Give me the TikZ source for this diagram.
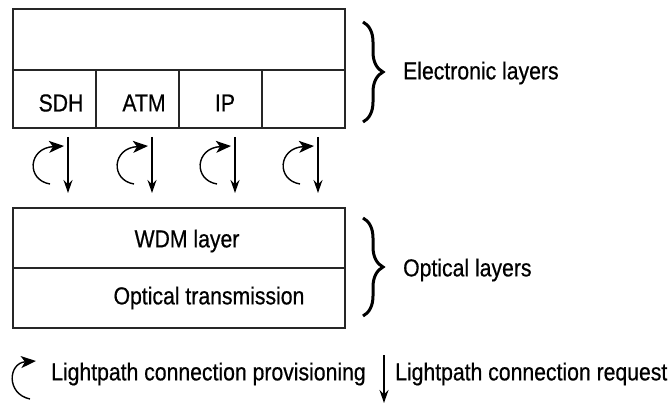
\documentclass[tikz,border=0pt]{standalone}
\usepackage{fontspec}
\setmainfont{Liberation Sans}[BoldFont=Liberation Sans,BoldFeatures={FakeBold=0.6}]
\usetikzlibrary{arrows.meta,decorations.pathreplacing}
\begin{document}
\begin{tikzpicture}[x=1pt,y=-1pt,
  box/.style={draw=black!85,line width=1.2pt},
  lbl/.style={font=\fontsize{24.5}{28}\selectfont\bfseries,xscale=0.865,inner sep=0pt},
  brc/.style={decorate,decoration={brace,amplitude=20pt},line width=3pt},
  dn/.style={-{Stealth[length=13pt,width=9pt]},line width=1.4pt},
  prov/.style={-{Stealth[length=15pt,width=12pt,inset=4pt]},line width=1.4pt}]
\useasboundingbox (0,0) rectangle (668,403);
% electronic layers
\draw[box] (13,9) rectangle (345,128);
\draw[box] (13,70) -- (345,70);
\foreach \x in {96,179,262} \draw[box] (\x,70) -- (\x,128);
\node[lbl] (sdh) at (61,103) {SDH};
\node[lbl] (atm) at (144,103) {ATM};
\node[lbl] (ip) at (225,103) {IP};
% optical layers
\draw[box] (13,208) rectangle (345,328);
\draw[box] (13,268) -- (345,268);
\node[lbl] (wdm) at (187,241) {WDM layer};
\node[lbl] (otx) at (209,298) {Optical transmission};
% braces
\coordinate (b1s) at (363,22); \coordinate (b1e) at (363,122);
\coordinate (b2s) at (363,218); \coordinate (b2e) at (363,316);
\draw[brc] (b1s) -- (b1e);
\draw[brc] (b2s) -- (b2e);
\node[lbl,anchor=west] (elec) at (403,73) {Electronic layers};
\node[lbl,anchor=west] (opt) at (403,270) {Optical layers};
% interlayer arrows
\foreach \i/\X in {1/68,2/152,3/235,4/318}{
  \coordinate (ds\i) at (\X,137);
  \coordinate (de\i) at (\X,193);
  \coordinate (ps\i) at (\X-18,184);
  \coordinate (pe\i) at (\X-4,146);
  \draw[dn] (ds\i) -- (de\i);
  \draw[prov] (ps\i) .. controls (\X-42,180) and (\X-40,148) .. (pe\i);
}
% legend
\coordinate (lps) at (30,399);
\coordinate (lpe) at (36,361);
\draw[prov] (lps) .. controls (6,394) and (8,363) .. (lpe);
\node[lbl,anchor=west] (lprov) at (51,374) {Lightpath connection provisioning};
\coordinate (lds) at (384,355);
\coordinate (lde) at (384,403);
\draw[dn] (lds) -- (lde);
\node[lbl,anchor=west] (lreq) at (395,374) {Lightpath connection request};
\end{tikzpicture}
\end{document}
